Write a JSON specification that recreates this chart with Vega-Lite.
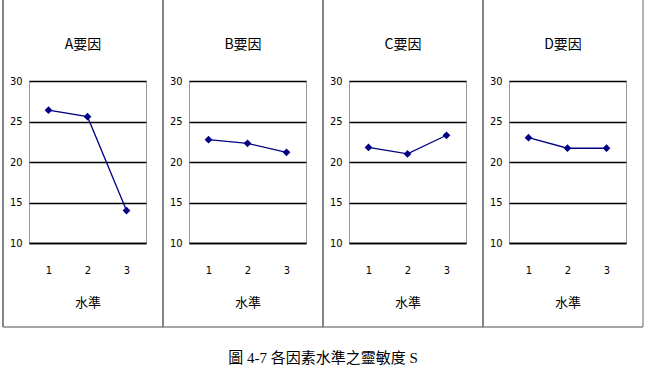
{
  "$schema": "https://vega.github.io/schema/vega-lite/v6.json",
  "padding": {"left": 1, "top": -2, "right": 0, "bottom": 0},
  "background": "white",
  "datasets": {
    "sens": [
      {"factor": "A", "level": 1, "S": 26.4},
      {"factor": "A", "level": 2, "S": 25.6},
      {"factor": "A", "level": 3, "S": 14.0},
      {"factor": "B", "level": 1, "S": 22.75},
      {"factor": "B", "level": 2, "S": 22.3},
      {"factor": "B", "level": 3, "S": 21.2},
      {"factor": "C", "level": 1, "S": 21.8},
      {"factor": "C", "level": 2, "S": 21.0},
      {"factor": "C", "level": 3, "S": 23.3},
      {"factor": "D", "level": 1, "S": 23.0},
      {"factor": "D", "level": 2, "S": 21.7},
      {"factor": "D", "level": 3, "S": 21.7}
    ],
    "frame": [{"k": 1}]
  },
  "title": {
    "text": "圖 4-7 各因素水準之靈敏度 S",
    "orient": "bottom",
    "anchor": "middle",
    "offset": 23,
    "font": "Liberation Serif, Noto Sans CJK TC",
    "fontSize": 15,
    "fontWeight": "normal",
    "color": "black"
  },
  "spacing": -4,
  "config": {
    "view": {"stroke": "#9a9a9a", "strokeWidth": 1},
    "font": "Liberation Sans Narrow, DejaVu Sans Condensed, Liberation Sans",
    "axis": {"labelColor": "black", "titleColor": "black", "labelFontSize": 11, "titleFontSize": 13, "titleFontWeight": "normal", "titleFont": "Noto Sans CJK TC"},
    "axisX": {"values": [1, 1.5, 2, 2.5, 3], "labelExpr": "datum.value % 1 === 0 ? datum.label : ''", "tickColor": {"condition": {"test": "datum.value % 1 === 0", "value": "transparent"}, "value": "black"}, "tickSize": -4, "tickWidth": 1.2, "domainColor": "black", "domainWidth": 1.3, "grid": false, "labelPadding": 25, "titlePadding": 21, "labelFlush": false, "labelAngle": 0}
  },
  "hconcat": [
    {
      "width": 117, "height": 162,
      "layer": [
        {
          "data": {"name": "sens"},
          "transform": [{"filter": "datum.factor === 'A'"}],
          "mark": {"type": "line", "color": "#000080", "strokeWidth": 1.3, "point": {"shape": "diamond", "filled": true, "size": 60, "color": "#000080"}},
          "encoding": {
            "x": {"field": "level", "type": "quantitative", "scale": {"domain": [0.5, 3.5], "nice": false}, "axis": {"title": "水準"}},
            "y": {"field": "S", "type": "quantitative", "scale": {"domain": [10, 30], "nice": false, "zero": false},
              "axis": {"values": [10, 15, 20, 25, 30], "grid": true, "gridColor": "black", "gridWidth": 1.3, "domain": false, "ticks": false, "labelPadding": 7, "title": null, "labelFlush": false}}
          }
        },
        {
          "data": {"name": "frame"},
          "mark": {"type": "text", "font": "Noto Sans CJK TC", "fontSize": 14, "color": "black", "baseline": "middle", "align": "center"},
          "encoding": {"x": {"datum": 1.885}, "y": {"datum": 34.44}, "text": {"value": "A要因"}}
        },
        {
          "data": {"name": "frame"},
          "mark": {"type": "rule", "color": "#444", "strokeWidth": 1.3},
          "encoding": {"x": {"datum": -0.167}, "y": {"datum": -0.37}, "y2": {"datum": 40}}
        },
        {
          "data": {"name": "frame"},
          "mark": {"type": "rule", "color": "#888", "strokeWidth": 1.3},
          "encoding": {"x": {"datum": -0.167}, "x2": {"datum": 3.936}, "y": {"datum": -0.37}}
        }
      ]
    },
    {
      "width": 117, "height": 162,
      "layer": [
        {
          "data": {"name": "sens"},
          "transform": [{"filter": "datum.factor === 'B'"}],
          "mark": {"type": "line", "color": "#000080", "strokeWidth": 1.3, "point": {"shape": "diamond", "filled": true, "size": 60, "color": "#000080"}},
          "encoding": {
            "x": {"field": "level", "type": "quantitative", "scale": {"domain": [0.5, 3.5], "nice": false}, "axis": {"title": "水準"}},
            "y": {"field": "S", "type": "quantitative", "scale": {"domain": [10, 30], "nice": false, "zero": false},
              "axis": {"values": [10, 15, 20, 25, 30], "grid": true, "gridColor": "black", "gridWidth": 1.3, "domain": false, "ticks": false, "labelPadding": 7, "title": null, "labelFlush": false}}
          }
        },
        {
          "data": {"name": "frame"},
          "mark": {"type": "text", "font": "Noto Sans CJK TC", "fontSize": 14, "color": "black", "baseline": "middle", "align": "center"},
          "encoding": {"x": {"datum": 1.885}, "y": {"datum": 34.44}, "text": {"value": "B要因"}}
        },
        {
          "data": {"name": "frame"},
          "mark": {"type": "rule", "color": "#444", "strokeWidth": 1.3},
          "encoding": {"x": {"datum": -0.167}, "y": {"datum": -0.37}, "y2": {"datum": 40}}
        },
        {
          "data": {"name": "frame"},
          "mark": {"type": "rule", "color": "#888", "strokeWidth": 1.3},
          "encoding": {"x": {"datum": -0.167}, "x2": {"datum": 3.936}, "y": {"datum": -0.37}}
        }
      ]
    },
    {
      "width": 117, "height": 162,
      "layer": [
        {
          "data": {"name": "sens"},
          "transform": [{"filter": "datum.factor === 'C'"}],
          "mark": {"type": "line", "color": "#000080", "strokeWidth": 1.3, "point": {"shape": "diamond", "filled": true, "size": 60, "color": "#000080"}},
          "encoding": {
            "x": {"field": "level", "type": "quantitative", "scale": {"domain": [0.5, 3.5], "nice": false}, "axis": {"title": "水準"}},
            "y": {"field": "S", "type": "quantitative", "scale": {"domain": [10, 30], "nice": false, "zero": false},
              "axis": {"values": [10, 15, 20, 25, 30], "grid": true, "gridColor": "black", "gridWidth": 1.3, "domain": false, "ticks": false, "labelPadding": 7, "title": null, "labelFlush": false}}
          }
        },
        {
          "data": {"name": "frame"},
          "mark": {"type": "text", "font": "Noto Sans CJK TC", "fontSize": 14, "color": "black", "baseline": "middle", "align": "center"},
          "encoding": {"x": {"datum": 1.885}, "y": {"datum": 34.44}, "text": {"value": "C要因"}}
        },
        {
          "data": {"name": "frame"},
          "mark": {"type": "rule", "color": "#444", "strokeWidth": 1.3},
          "encoding": {"x": {"datum": -0.167}, "y": {"datum": -0.37}, "y2": {"datum": 40}}
        },
        {
          "data": {"name": "frame"},
          "mark": {"type": "rule", "color": "#888", "strokeWidth": 1.3},
          "encoding": {"x": {"datum": -0.167}, "x2": {"datum": 3.936}, "y": {"datum": -0.37}}
        }
      ]
    },
    {
      "width": 117, "height": 162,
      "layer": [
        {
          "data": {"name": "sens"},
          "transform": [{"filter": "datum.factor === 'D'"}],
          "mark": {"type": "line", "color": "#000080", "strokeWidth": 1.3, "point": {"shape": "diamond", "filled": true, "size": 60, "color": "#000080"}},
          "encoding": {
            "x": {"field": "level", "type": "quantitative", "scale": {"domain": [0.5, 3.5], "nice": false}, "axis": {"title": "水準"}},
            "y": {"field": "S", "type": "quantitative", "scale": {"domain": [10, 30], "nice": false, "zero": false},
              "axis": {"values": [10, 15, 20, 25, 30], "grid": true, "gridColor": "black", "gridWidth": 1.3, "domain": false, "ticks": false, "labelPadding": 7, "title": null, "labelFlush": false}}
          }
        },
        {
          "data": {"name": "frame"},
          "mark": {"type": "text", "font": "Noto Sans CJK TC", "fontSize": 14, "color": "black", "baseline": "middle", "align": "center"},
          "encoding": {"x": {"datum": 1.885}, "y": {"datum": 34.44}, "text": {"value": "D要因"}}
        },
        {
          "data": {"name": "frame"},
          "mark": {"type": "rule", "color": "#444", "strokeWidth": 1.3},
          "encoding": {"x": {"datum": -0.167}, "y": {"datum": -0.37}, "y2": {"datum": 40}}
        },
        {
          "data": {"name": "frame"},
          "mark": {"type": "rule", "color": "#888", "strokeWidth": 1.3},
          "encoding": {"x": {"datum": 3.936}, "y": {"datum": -0.37}, "y2": {"datum": 40}}
        },
        {
          "data": {"name": "frame"},
          "mark": {"type": "rule", "color": "#888", "strokeWidth": 1.3},
          "encoding": {"x": {"datum": -0.167}, "x2": {"datum": 3.936}, "y": {"datum": -0.37}}
        }
      ]
    }
  ]
}
